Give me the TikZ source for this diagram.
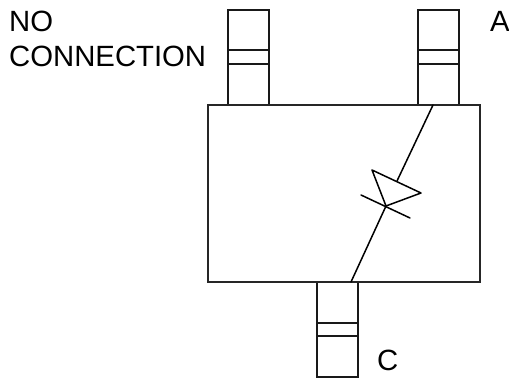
\documentclass[tikz,border=0pt]{standalone}
\usepackage{fontspec}
\setmainfont{Liberation Sans}
\tikzset{
	pinline/.style={line width=1.6pt, color=black!90},
	bodyline/.style={line width=1.8pt, color=black!85},
	diodeline/.style={line width=1.5pt, color=black, line cap=round, line join=round},
	pinlabel/.style={anchor=base west, inner sep=0pt, font=\fontsize{29.3}{29.3}\selectfont}
}
\begin{document}
\begin{tikzpicture}[x=1pt, y=-1pt]
	\useasboundingbox (0, 0) rectangle (509, 379);
	%%%%% START %%%%%
	
	\draw[pinline] (228, 10) rectangle (269, 105);
	\draw[pinline] (228, 50) -- (269, 50);
	\draw[pinline] (228, 64) -- (269, 64);
	
	\draw[pinline] (418, 10) rectangle (459, 105);
	\draw[pinline] (418, 50) -- (459, 50);
	\draw[pinline] (418, 64) -- (459, 64);
	
	\draw[pinline] (317, 282) rectangle (358, 377);
	\draw[pinline] (317, 323) -- (358, 323);
	\draw[pinline] (317, 336) -- (358, 336);
	
	\draw[bodyline] (208, 105) rectangle (480, 282);
	
	\draw[diodeline] (433, 105) -- (397, 181);
	\draw[diodeline] (372, 170) -- (421, 193) -- (386, 206) -- cycle;
	\draw[diodeline] (361, 195) -- (410, 218);
	\draw[diodeline] (386, 206) -- (351, 282);
	
	\node[pinlabel] (no) at (9, 32) {NO};
	\node[pinlabel] (connection) at (9, 67) {CONNECTION};
	\node[pinlabel] (anode) at (490, 32) {A};
	\node[pinlabel] (cathode) at (377, 371) {C};
	
	%%%%% END %%%%%
\end{tikzpicture}
\end{document}
